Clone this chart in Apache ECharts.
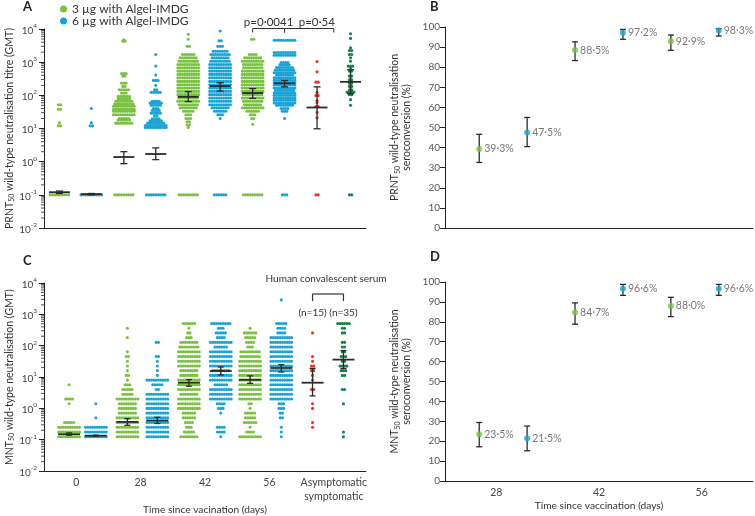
<!DOCTYPE html>
<html><head><meta charset="utf-8">
<script src="https://cdn.jsdelivr.net/npm/echarts@6/dist/echarts.min.js"></script>
<style>html,body{margin:0;padding:0;background:#fff}#c{width:755px;height:516px}</style>
</head><body><div id="c"></div>
<script>
// ================= DATA =================
const timeCats = ['0', '28', '42', '56', 'Asymptomatic\nsymptomatic'];
const seroCats = ['28', '42', '56'];
const groupNames = ['3 µg with Algel-IMDG', '6 µg with Algel-IMDG'];
const convNames = ['Asymptomatic', 'Symptomatic'];
const convN = ['(n=15)', '(n=35)'];
const pLabels = ['p=0·0041', 'p=0·54'];

// Panel A: PRNT50 titres, [titre, number of participants at that titre]
const prntG0 = [[52,2],[38,2],[15,1],[12,2],[0.1,9]];
const prntB0 = [[40,1],[15,1],[12,2],[0.1,10]];
const prntG28 = [[4700,1],[4300,2],[457,3],[380,2],[234,3],[186,2],[148,5],[117,3],[93,6],[78,6],[66,8],[55,9],[47,10],[38,10],[33,10],[26,10],[20,5],[18,6],[14.5,8],[0.1,9]];
const prntB28 = [[1700,1],[760,1],[407,1],[282,3],[200,1],[148,2],[123,5],[66,4],[59,6],[50,5],[40,3],[35,4],[29,5],[24,2],[19.5,4],[17,6],[14.5,8],[12.3,10],[10.7,10],[0.1,9]];
const prntG42 = [[6900,1],[4900,1],[3000,2],[1700,6],[1350,8],[1070,9],[850,10],[676,10],[537,10],[427,10],[339,10],[263,10],[209,10],[166,10],[132,10],[105,10],[83,9],[66,10],[52,9],[42,8],[33,5],[26,3],[20,3],[16,2],[13,2],[10.7,1],[0.1,9]];
const prntB42 = [[8700,1],[4400,2],[3000,3],[2140,7],[1700,9],[1350,8],[1070,9],[850,10],[676,10],[537,10],[427,10],[339,10],[263,10],[209,10],[166,10],[132,10],[105,10],[83,10],[66,10],[52,10],[42,8],[33,6],[26,3],[20,1],[0.1,6]];
const prntG56 = [[4900,2],[1700,4],[1350,8],[1070,10],[850,9],[676,9],[537,10],[427,10],[339,10],[263,10],[209,10],[166,10],[132,10],[105,9],[83,10],[66,9],[52,8],[42,10],[33,6],[26,3],[20,2],[13.5,1],[0.1,9]];
const prntB56 = [[4600,10],[1950,10],[1620,10],[980,4],[830,5],[690,8],[575,9],[480,10],[407,8],[339,10],[282,10],[240,10],[204,10],[166,10],[141,9],[117,10],[100,10],[83,10],[71,10],[59,10],[50,8],[40,4],[33,3],[20,1],[0.1,3]];
const prntAsym = [[1050,1],[510,1],[250,2],[123,1],[98,2],[70,1],[60,1],[46,2],[31,1],[21,1],[0.1,2]];
const prntSym = [[7200,1],[5200,1],[2700,1],[2240,2],[1700,2],[1350,1],[1070,1],[760,3],[676,1],[537,2],[380,2],[295,2],[234,2],[186,2],[148,2],[126,4],[105,2],[74,1],[50,1],[0.1,2]];

// Panel A: GMT [mean, lower 95% CI, upper 95% CI]
const gmtA3 = [[0.12,0.11,0.13],[1.38,0.87,2.0],[90,65,130],[117,81,160]];
const gmtA6 = [[0.105,0.1,0.11],[1.7,1.15,2.6],[190,135,240],[230,180,280]];
const gmtAConv = [[43,9.8,180],[255,112,590]];

// Panel C: MNT50 dilution levels and number of participants at each level
const mntLevels = [0.125,0.177,0.25,0.354,0.5,0.707,1,1.41,2,2.83,4,5.66,8,11.3,16,22.6,32,45.3,64,90.5,128,181,256,362,512];
const mntG0  = [10,10,10,5,0,0,0,1,4,0,0,1,0,0,0,0,0,0,0,0,0,0,0,0,0];
const mntB0  = [10,10,10,0,1,0,0,1,0,0,0,0,0,0,0,0,0,0,0,0,0,0,0,0,0];
const mntG28 = [10,10,10,10,10,8,8,8,10,5,5,3,1,2,1,1,1,2,1,0,0,1,0,1,0];
const mntB28 = [10,10,10,10,10,10,10,10,10,10,2,5,10,1,1,1,1,2,0,0,2,0,0,0,0];
const mntG42 = [8,5,3,4,6,6,10,10,10,8,10,10,10,8,8,10,10,10,10,9,8,3,2,1,6];
const mntB42 = [1,4,4,0,0,1,3,4,10,10,10,6,10,10,8,10,10,10,10,6,10,4,5,3,9];
const mntG56 = [10,4,1,6,5,5,1,2,10,10,10,10,10,10,10,10,10,9,9,3,4,5,6,1,0];
const mntB56 = [1,1,1,0,2,2,3,3,10,10,10,10,10,10,10,10,10,10,10,10,10,10,4,4,5];
const mntB56High = [2900];
const mntAsym = [0,0,1,1,0,0,1,1,0,0,2,0,1,1,2,2,1,1,0,0,0,0,1,0,0];
const mntSym  = [1,1,0,0,0,0,0,1,0,0,2,0,0,2,3,4,2,3,2,2,2,0,2,2,6];

const gmtC3 = [[0.15,0.14,0.165],[0.37,0.29,0.47],[6.6,5.1,8.3],[8.2,6.3,10.9]];
const gmtC6 = [[0.135,0.13,0.14],[0.41,0.33,0.52],[15.6,11.7,21],[19.5,14.5,25]];
const gmtCConv = [[6.6,2.5,18.8],[36,18.8,70]];

// Panels B & D: seroconversion (%) with 95% CI
const prntSero3 = [39.3, 88.5, 92.9], prntSero3Lo = [32.6, 83.3, 88.4], prntSero3Hi = [46.6, 92.6, 96.0];
const prntSero6 = [47.5, 97.2, 98.3], prntSero6Lo = [40.5, 93.9, 95.5], prntSero6Hi = [55.0, 98.8, 99.2];
const mntSero3 = [23.5, 84.7, 88.0], mntSero3Lo = [17.2, 78.8, 82.6], mntSero3Hi = [29.4, 89.5, 92.3];
const mntSero6 = [21.5, 96.6, 96.6], mntSero6Lo = [15.2, 93.3, 93.3], mntSero6Hi = [27.6, 98.8, 98.8];

// ================= STYLE / LAYOUT =================
const COL = {g:'#7ac143', b:'#1ba3d6', r:'#ee3124', dg:'#17804a'};
const FONT = 'Lato';
const TXT = '#333';
const pxPerUnit = 32.2;      // 322px wide grid / 10 units
const dotStep = 2.3;         // px between dots in a row
const posA = {g:[0.48,2.48,4.48,6.48], b:[1.47,3.47,5.47,7.47], conv:[8.48,9.52]};
const posC = {g:[0.78,2.59,4.5,6.4], b:[1.61,3.52,5.49,7.37], conv:[8.34,9.3]};
const posS = {g:[0,2,4].map(i => (5 + 7*i)/15), b:[1,3,5].map(i => (5 + 7*i)/15)};

function swarm(rows, cx) {
  const s = dotStep / pxPerUnit, out = [];
  rows.forEach(([v, n]) => {
    for (let j = 0; j < n; j++) out.push([cx + (j - (n - 1) / 2) * s, v]);
  });
  return out;
}
function levelRows(counts) {
  return counts.map((n, i) => [mntLevels[i], n]).filter(r => r[1] > 0);
}

const series = [];
function addSwarm(name, rows, cx, color, xi, yi) {
  series.push({name, type:'scatter', xAxisIndex:xi, yAxisIndex:yi, data:swarm(rows, cx),
    symbolSize:3.1, itemStyle:{color, opacity:1}, z:2, silent:true});
}
function addErr(stats, xs, xi, yi, meanHalf, capHalf, lw, z) {
  series.push({type:'custom', xAxisIndex:xi, yAxisIndex:yi, z, silent:true, clip:false,
    data: stats.map((s, i) => [xs[i], s[0], s[1], s[2]]),
    renderItem(params, api) {
      const x = api.value(0);
      const m = api.coord([x, api.value(1)]);
      const lo = api.coord([x, api.value(2)]);
      const hi = api.coord([x, api.value(3)]);
      const st = {stroke:'#2a2a2a', lineWidth:lw};
      const ch = [
        {type:'line', shape:{x1:m[0], y1:lo[1], x2:m[0], y2:hi[1]}, style:st},
        {type:'line', shape:{x1:m[0]-capHalf, y1:lo[1], x2:m[0]+capHalf, y2:lo[1]}, style:st},
        {type:'line', shape:{x1:m[0]-capHalf, y1:hi[1], x2:m[0]+capHalf, y2:hi[1]}, style:st}
      ];
      if (meanHalf) ch.push({type:'line', shape:{x1:m[0]-meanHalf, y1:m[1], x2:m[0]+meanHalf, y2:m[1]}, style:{stroke:'#2a2a2a', lineWidth:1.8}});
      return {type:'group', children:ch};
    }});
}

// Panel A swarms
[prntG0, prntG28, prntG42, prntG56].forEach((r, i) => addSwarm(groupNames[0], r, posA.g[i], COL.g, 1, 0));
[prntB0, prntB28, prntB42, prntB56].forEach((r, i) => addSwarm(groupNames[1], r, posA.b[i], COL.b, 1, 0));
addSwarm(convNames[0], prntAsym, posA.conv[0], COL.r, 1, 0);
addSwarm(convNames[1], prntSym, posA.conv[1], COL.dg, 1, 0);
addErr(gmtA3, posA.g, 1, 0, 10.5, 3.5, 1.3, 5);
addErr(gmtA6, posA.b, 1, 0, 10.5, 3.5, 1.3, 5);
addErr(gmtAConv, posA.conv, 1, 0, 10.5, 3.5, 1.3, 5);

// Panel C swarms
[mntG0, mntG28, mntG42, mntG56].forEach((c, i) => addSwarm(groupNames[0], levelRows(c), posC.g[i], COL.g, 3, 1));
[mntB0, mntB28, mntB42, mntB56].forEach((c, i) => addSwarm(groupNames[1], levelRows(c), posC.b[i], COL.b, 3, 1));
addSwarm(groupNames[1], mntB56High.map(v => [v, 1]), posC.b[3], COL.b, 3, 1);
addSwarm(convNames[0], levelRows(mntAsym), posC.conv[0], COL.r, 3, 1);
addSwarm(convNames[1], levelRows(mntSym), posC.conv[1], COL.dg, 3, 1);
addErr(gmtC3, posC.g, 3, 1, 11, 3, 1.3, 5);
addErr(gmtC6, posC.b, 3, 1, 11, 3, 1.3, 5);
addErr(gmtCConv, posC.conv, 3, 1, 11, 3, 1.3, 5);

// log minor ticks (axis decoration) for panels A and C
const minorVals = [];
for (let e = -2; e < 4; e++) for (let m = 2; m < 10; m++) minorVals.push(m * Math.pow(10, e));
[[1,0],[3,1]].forEach(([xi, yi]) => series.push({type:'custom', xAxisIndex:xi, yAxisIndex:yi, silent:true, clip:false, z:1,
  data: minorVals.map(v => [0, v]),
  renderItem(p, api) {
    const c = api.coord([0, api.value(1)]);
    return {type:'line', shape:{x1:c[0]-3, y1:c[1], x2:c[0], y2:c[1]}, style:{stroke:'#222', lineWidth:0.8}};
  }}));

// p-value brackets, panel A  (label 0 centred, label 1 right-aligned to bracket end)
series.push({type:'custom', xAxisIndex:1, yAxisIndex:0, silent:true, clip:false, z:6,
  data: [[posA.g[3], 10000, posA.b[3], 0], [posA.b[3], 10000, 9, 1]],
  renderItem(p, api) {
    const a = api.coord([api.value(0), api.value(1)]);
    const b = api.coord([api.value(2), api.value(1)]);
    const k = api.value(3);
    const y = a[1] - 0.5, st = {stroke:'#333', lineWidth:1};
    const tx = k === 0 ? (a[0] + b[0]) / 2 : b[0] + 1;
    const al = k === 0 ? 'center' : 'right';
    return {type:'group', children:[
      {type:'line', shape:{x1:a[0], y1:y, x2:b[0], y2:y}, style:st},
      {type:'line', shape:{x1:a[0], y1:y, x2:a[0], y2:y+4}, style:st},
      {type:'line', shape:{x1:b[0], y1:y, x2:b[0], y2:y+4}, style:st},
      {type:'text', style:{text:pLabels[k], x:tx, y:y-6.5, align:al, verticalAlign:'middle',
        textAlign:al, textVerticalAlign:'middle', fontSize:11.5, fontFamily:FONT, fill:TXT}}
    ]};
  }});

// convalescent serum bracket, panel C
series.push({type:'custom', xAxisIndex:3, yAxisIndex:1, silent:true, clip:false, z:6,
  data: [[posC.conv[0], 10000, posC.conv[1]]],
  renderItem(p, api) {
    const a = api.coord([api.value(0), api.value(1)]);
    const b = api.coord([api.value(2), api.value(1)]);
    const top = a[1], y = top + 11, st = {stroke:'#333', lineWidth:1.2};
    const t = (text, x, yy) => ({type:'text', style:{text, x, y:yy, align:'center', verticalAlign:'middle',
      textAlign:'center', textVerticalAlign:'middle', fontSize:10, fontFamily:FONT, fill:TXT}});
    return {type:'group', children:[
      {type:'line', shape:{x1:a[0], y1:y, x2:b[0], y2:y}, style:st},
      {type:'line', shape:{x1:a[0], y1:y, x2:a[0], y2:y+7}, style:st},
      {type:'line', shape:{x1:b[0], y1:y, x2:b[0], y2:y+7}, style:st},
      t('Human convalescent serum', (a[0]+b[0])/2 - 2, top - 4),
      t(convN[0], a[0], top + 30),
      t(convN[1], b[0], top + 30)
    ]};
  }});

// Panels B & D
function addSero(vals, lo, hi, xs, color, name, xi, yi) {
  addErr(vals.map((v, i) => [v, lo[i], hi[i]]), xs, xi, yi, 0, 3, 1.3, 3);
  series.push({name, type:'scatter', xAxisIndex:xi, yAxisIndex:yi, z:4, silent:true,
    data: vals.map((v, i) => [xs[i], v]), symbolSize:6, itemStyle:{color},
    label:{show:true, position:'right', distance:2, fontSize:10.5, fontFamily:FONT, color:'#555',
      formatter: p => p.value[1].toFixed(1).replace('.', '·') + '%'}});
}
addSero(prntSero3, prntSero3Lo, prntSero3Hi, posS.g, COL.g, groupNames[0], 5, 2);
addSero(prntSero6, prntSero6Lo, prntSero6Hi, posS.b, COL.b, groupNames[1], 5, 2);
addSero(mntSero3, mntSero3Lo, mntSero3Hi, posS.g, COL.g, groupNames[0], 7, 3);
addSero(mntSero6, mntSero6Lo, mntSero6Hi, posS.b, COL.b, groupNames[1], 7, 3);

// ================= AXES =================
const axLine = {lineStyle:{color:'#222', width:1}};
const axTick = {length:5, lineStyle:{color:'#222', width:1}};
const supFmt = v => { const e = Math.round(Math.log10(v)); return '{b|10}{s|' + e + '}'; };
const supRich = {b:{fontSize:10, fontFamily:FONT, color:'#444', lineHeight:13, verticalAlign:'bottom'},
                 s:{fontSize:6.5, fontFamily:FONT, color:'#444', lineHeight:8, verticalAlign:'top'}};
const nameRich = {a:{fontSize:10.5, fontFamily:FONT, color:TXT, lineHeight:12},
                  s:{fontSize:7, fontFamily:FONT, color:TXT, lineHeight:12, verticalAlign:'bottom', padding:[4,0,0,0]}};

function catAxis(grid, data, showLabel, name) {
  const ax = {type:'category', gridIndex:grid, data, boundaryGap:true, position:'bottom',
    axisLine:axLine, axisTick:axTick, splitLine:{show:false},
    axisLabel:{show:showLabel, interval:0, fontSize:10.5, fontFamily:FONT, color:'#444', margin:5, lineHeight:14}};
  if (name) Object.assign(ax, {name, nameLocation:'middle', nameGap:19,
    nameTextStyle:{fontSize:10.2, fontFamily:FONT, color:TXT}});
  return ax;
}
function valAxis(grid, max) {
  return {type:'value', gridIndex:grid, min:0, max, show:false, position:'bottom'};
}
function logAxis(grid, name) {
  return {type:'log', gridIndex:grid, logBase:10, min:0.01, max:10000,
    axisLine:{show:true, ...axLine}, axisTick:{show:true, ...axTick}, splitLine:{show:false},
    axisLabel:{formatter:supFmt, rich:supRich, margin:7},
    name, nameLocation:'middle', nameRotate:90, nameGap:26, nameTextStyle:{rich:nameRich}};
}
function pctAxis(grid, name) {
  return {type:'value', gridIndex:grid, min:0, max:100, interval:10,
    axisLine:{show:true, ...axLine}, axisTick:{show:true, ...axTick}, splitLine:{show:false},
    axisLabel:{fontSize:10, fontFamily:FONT, color:'#555', margin:5},
    name, nameLocation:'middle', nameRotate:90, nameGap:32, nameTextStyle:{rich:nameRich, lineHeight:12}};
}

const option = {
  animation:false,
  backgroundColor:'#fff',
  textStyle:{fontFamily:FONT},
  grid:[
    {left:44, top:29, width:322, height:199},
    {left:44, top:283, width:322, height:200},
    {left:445, top:27, width:308, height:201},
    {left:445, top:282, width:308, height:199}
  ],
  legend:{data:groupNames, orient:'vertical', left:55, top:-2, itemWidth:7, itemHeight:7, itemGap:0, icon:'circle',
    textStyle:{fontSize:12, fontFamily:FONT, color:TXT}, selectedMode:false},
  xAxis:[
    catAxis(0, timeCats, false), valAxis(0, 10),
    catAxis(1, timeCats, true, 'Time since vacination (days)'), valAxis(1, 10),
    catAxis(2, seroCats, false), valAxis(2, 3),
    catAxis(3, seroCats, true, 'Time since vaccination (days)'), valAxis(3, 3)
  ],
  yAxis:[
    logAxis(0, '{a|PRNT}{s|50}{a| wild-type neutralisation titre (GMT)}'),
    logAxis(1, '{a|MNT}{s|50}{a| wild-type neutralisation (GMT)}'),
    pctAxis(2, '{a|PRNT}{s|50}{a| wild-type neutralisation}\n{a|seroconversion (%)}'),
    pctAxis(3, '{a|MNT}{s|50}{a| wild-type neutralisation}\n{a|seroconversion (%)}')
  ],
  graphic:[
    {type:'text', left:23, top:0, style:{text:'A', fontSize:13, fontWeight:'bold', fontFamily:FONT, fill:'#222'}},
    {type:'text', left:430, top:0, style:{text:'B', fontSize:13, fontWeight:'bold', fontFamily:FONT, fill:'#222'}},
    {type:'text', left:23, top:254, style:{text:'C', fontSize:13, fontWeight:'bold', fontFamily:FONT, fill:'#222'}},
    {type:'text', left:430, top:250, style:{text:'D', fontSize:13, fontWeight:'bold', fontFamily:FONT, fill:'#222'}}
  ],
  series
};
const chart = echarts.init(document.getElementById('c'), null, {renderer:'canvas'});
chart.setOption(option);
</script></body></html>
